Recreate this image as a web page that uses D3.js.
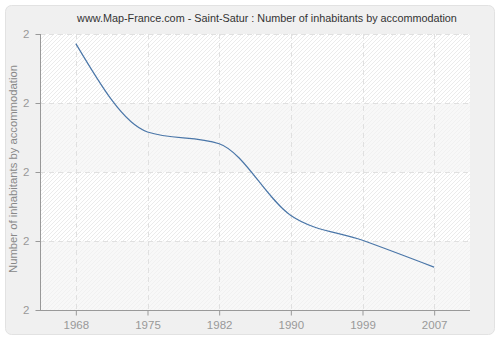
<!DOCTYPE html>
<html><head><meta charset="utf-8">
<script src="https://cdn.jsdelivr.net/npm/d3@7"></script>
<style>html,body{margin:0;padding:0;background:#fff;}svg{display:block;}</style>
</head><body>
<script>
const years = ["1968","1975","1982","1990","1999","2007"];
const values = [2.186, 2.058, 2.041, 1.937, 1.901, 1.862];
const yTicks = [1.8, 1.9, 2.0, 2.1, 2.2];
const title = "www.Map-France.com - Saint-Satur : Number of inhabitants by accommodation";
const yTitle = "Number of inhabitants by accommodation";

const W = 500, H = 340;
const m = {l: 40, r: 30, t: 34, b: 30};
const svg = d3.select("body").append("svg").attr("width", W).attr("height", H);
const font = "Liberation Sans, Arial, sans-serif";

function fit(sel, target) {
  const len = sel.node().getComputedTextLength();
  if (len > 0) sel.attr("font-size", (11 * target / len).toFixed(2) + "px");
}

const defs = svg.append("defs");
const pat = defs.append("pattern").attr("id","hatch").attr("patternUnits","userSpaceOnUse")
  .attr("width",4).attr("height",4);
pat.append("rect").attr("width",4).attr("height",4).attr("fill","#ffffff");
pat.append("path").attr("d","M-1,1 l2,-2 M0,4 l4,-4 M3,5 l2,-2").attr("stroke","#e9e9e9").attr("stroke-width",0.9);
const pat2 = defs.append("pattern").attr("id","hatch2").attr("patternUnits","userSpaceOnUse")
  .attr("width",4).attr("height",4);
pat2.append("rect").attr("width",4).attr("height",4).attr("fill","#f8f8f8");
pat2.append("path").attr("d","M-1,1 l2,-2 M0,4 l4,-4 M3,5 l2,-2").attr("stroke","#f0f0f0").attr("stroke-width",0.9);

// outer background
svg.append("rect").attr("x",5.5).attr("y",5.5).attr("width",W-11).attr("height",H-11)
  .attr("rx",6).attr("fill","#f0f0f0").attr("stroke","#e2e2e2").attr("stroke-width",1);

const x = d3.scalePoint().domain(years).range([m.l, W - m.r]).padding(0.5);
const y = d3.scaleLinear().domain([1.8, 2.2]).range([H - m.b, m.t]);

// bands
const g = svg.append("g");
for (let i = 0; i < yTicks.length - 1; i++) {
  g.append("rect").attr("x", m.l).attr("width", W - m.r - m.l)
    .attr("y", y(yTicks[i+1])).attr("height", y(yTicks[i]) - y(yTicks[i+1]))
    .attr("fill", i % 2 === 0 ? "url(#hatch2)" : "url(#hatch)");
}

// grid
g.selectAll(".hg").data(yTicks.slice(1)).enter().append("line")
  .attr("x1", m.l).attr("x2", W - m.r)
  .attr("y1", d => Math.round(y(d)) + 0.5).attr("y2", d => Math.round(y(d)) + 0.5)
  .attr("stroke","#e0e0e0").attr("stroke-dasharray","5,4");
g.selectAll(".vg").data(years).enter().append("line")
  .attr("y1", m.t).attr("y2", H - m.b)
  .attr("x1", d => Math.round(x(d)) + 0.5).attr("x2", d => Math.round(x(d)) + 0.5)
  .attr("stroke","#e0e0e0").attr("stroke-dasharray","5,4");

// axes
const xa = svg.append("g").attr("transform", `translate(0,${H - m.b + 0.5})`)
  .call(d3.axisBottom(x).tickSizeInner(5).tickSizeOuter(0).tickPadding(5));
const ya = svg.append("g").attr("transform", `translate(${m.l + 0.5},0)`)
  .call(d3.axisLeft(y).tickValues(yTicks).tickFormat(d3.format(".0f")).tickSizeInner(5).tickSizeOuter(0).tickPadding(6));
[xa, ya].forEach(a => {
  a.select(".domain").remove();
  a.selectAll(".tick line").attr("stroke","#999");
  a.selectAll("text").attr("fill","#999").attr("font-family",font).attr("font-size","11.5px");
});
svg.append("line").attr("x1", m.l).attr("x2", W - m.r).attr("y1", H - m.b + 0.5).attr("y2", H - m.b + 0.5).attr("stroke","#999");
svg.append("line").attr("x1", m.l + 0.5).attr("x2", m.l + 0.5).attr("y1", m.t).attr("y2", H - m.b).attr("stroke","#999");

// line
const line = d3.line().x((d,i) => x(years[i])).y(d => y(d)).curve(d3.curveMonotoneX);
svg.append("path").datum(values).attr("d", line).attr("fill","none")
  .attr("stroke","#4a76a8").attr("stroke-width",1.2);

// title
const t = svg.append("text").attr("x", 267).attr("y", 22).attr("text-anchor","middle")
  .attr("font-family",font).attr("font-size","11px").attr("fill","#333").text(title);
fit(t, 380);
const yt = svg.append("text").attr("transform", `translate(17,169) rotate(-90)`)
  .attr("text-anchor","middle").attr("font-family",font).attr("font-size","11px")
  .attr("fill","#888").text(yTitle);
fit(yt, 208);
</script>
</body></html>
